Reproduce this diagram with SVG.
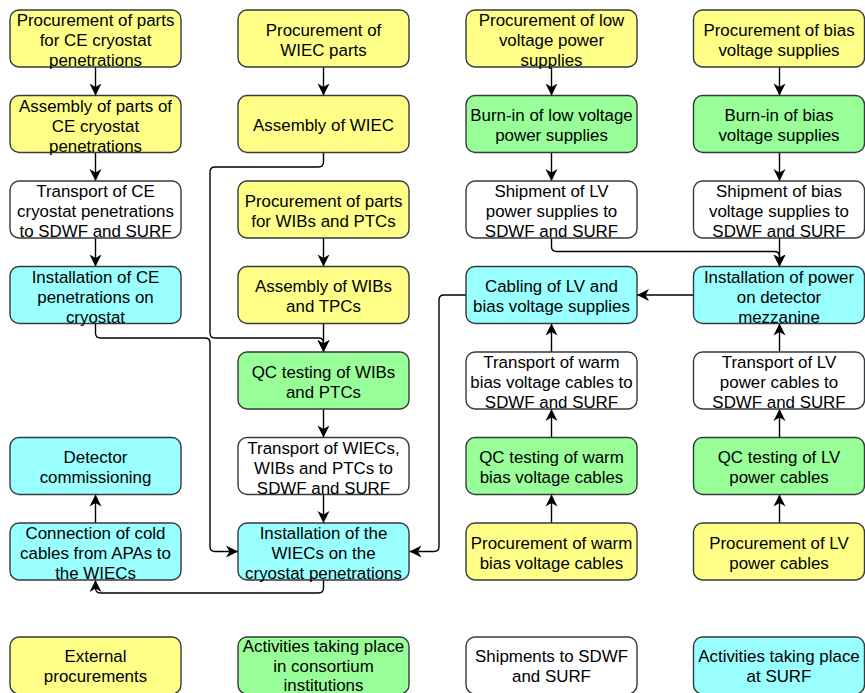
<svg xmlns="http://www.w3.org/2000/svg" width="865" height="693" viewBox="0 0 865 693">
<style>
.b{stroke:#36393d;stroke-width:1.4}
.y{fill:#ffff88}.g{fill:#99ff99}.c{fill:#99ffff}.w{fill:#ffffff}
text{font-family:"Liberation Sans",Arial,sans-serif;font-size:16.9px;fill:#000;text-anchor:middle}
.e{fill:none;stroke:#000;stroke-width:1.4;marker-end:url(#a)}
</style>
<defs>
<marker id="a" markerUnits="userSpaceOnUse" markerWidth="13" markerHeight="13" viewBox="0 0 13 13" refX="12" refY="6.5" orient="auto">
<path d="M0,0.5 L12,6.5 L0,12.5 L3.5,6.5 Z" fill="#000"/>
</marker>
</defs>
<rect width="865" height="693" fill="#fff"/>
<g id="connectors">
<path class="e" d="M95.5,67 V95.5"/>
<path class="e" d="M95.5,152.5 V181"/>
<path class="e" d="M95.5,238 V266.5"/>
<path class="e" d="M95.5,323.5 V333 Q95.5,338 100.5,338 H205 Q210,338 210,343 V546.5 Q210,551.5 215,551.5 H238"/>
<path class="e" d="M95.5,523 V494.5"/>
<path class="e" d="M323.5,580 V588 Q323.5,593 318.5,593 H100.5 Q95.5,593 95.5,588 V580"/>
<path class="e" d="M323.5,67 V95.5"/>
<path class="e" d="M323.5,152.5 V162 Q323.5,167 318.5,167 H215 Q210,167 210,172 V333 Q210,338 215,338 H318.5 Q323.5,338 323.5,343 V352"/>
<path class="e" d="M323.5,238 V266.5"/>
<path class="e" d="M323.5,323.5 V352"/>
<path class="e" d="M323.5,409 V437.5"/>
<path class="e" d="M323.5,494.5 V523"/>
<path class="e" d="M551.5,67 V95.5"/>
<path class="e" d="M551.5,152.5 V181"/>
<path class="e" d="M551.5,238 V246.5 Q551.5,251.5 556.5,251.5 H774.5 Q779.5,251.5 779.5,256.5 V266.5"/>
<path class="e" d="M779.5,67 V95.5"/>
<path class="e" d="M779.5,152.5 V181"/>
<path class="e" d="M779.5,238 V266.5"/>
<path class="e" d="M694,295 H637"/>
<path class="e" d="M466,295 H444 Q439,295 439,300 V546.5 Q439,551.5 434,551.5 H409.5"/>
<path class="e" d="M551.5,352 V323.5"/>
<path class="e" d="M551.5,437.5 V409"/>
<path class="e" d="M551.5,523 V494.5"/>
<path class="e" d="M779.5,352 V323.5"/>
<path class="e" d="M779.5,437.5 V409"/>
<path class="e" d="M779.5,523 V494.5"/>
</g>
<g id="n1"><rect class="b y" x="10" y="10" width="171" height="57" rx="9"/><text x="95.5" y="26">Procurement of parts</text><text x="95.5" y="46">for CE cryostat</text><text x="95.5" y="66">penetrations</text></g>
<g id="n2"><rect class="b y" x="10" y="95.5" width="171" height="57" rx="9"/><text x="95.5" y="111.5">Assembly of parts of</text><text x="95.5" y="131.5">CE cryostat</text><text x="95.5" y="151.5">penetrations</text></g>
<g id="n3"><rect class="b w" x="10" y="181" width="171" height="57" rx="9"/><text x="95.5" y="197">Transport of CE</text><text x="95.5" y="217">cryostat penetrations</text><text x="95.5" y="237">to SDWF and SURF</text></g>
<g id="n4"><rect class="b c" x="10" y="266.5" width="171" height="57" rx="9"/><text x="95.5" y="282.5">Installation of CE</text><text x="95.5" y="302.5">penetrations on</text><text x="95.5" y="322.5">cryostat</text></g>
<g id="n5"><rect class="b c" x="10" y="437.5" width="171" height="57" rx="9"/><text x="95.5" y="463">Detector</text><text x="95.5" y="483">commissioning</text></g>
<g id="n6"><rect class="b c" x="10" y="523" width="171" height="57" rx="9"/><text x="95.5" y="539">Connection of cold</text><text x="95.5" y="559">cables from APAs to</text><text x="95.5" y="579">the WIECs</text></g>
<g id="n7"><rect class="b y" x="238" y="10" width="171" height="57" rx="9"/><text x="323.5" y="35.5">Procurement of</text><text x="323.5" y="55.5">WIEC parts</text></g>
<g id="n8"><rect class="b y" x="238" y="95.5" width="171" height="57" rx="9"/><text x="323.5" y="131">Assembly of WIEC</text></g>
<g id="n9"><rect class="b y" x="238" y="181" width="171" height="57" rx="9"/><text x="323.5" y="206.5">Procurement of parts</text><text x="323.5" y="226.5">for WIBs and PTCs</text></g>
<g id="n10"><rect class="b y" x="238" y="266.5" width="171" height="57" rx="9"/><text x="323.5" y="292">Assembly of WIBs</text><text x="323.5" y="312">and TPCs</text></g>
<g id="n11"><rect class="b g" x="238" y="352" width="171" height="57" rx="9"/><text x="323.5" y="377.5">QC testing of WIBs</text><text x="323.5" y="397.5">and PTCs</text></g>
<g id="n12"><rect class="b w" x="238" y="437.5" width="171" height="57" rx="9"/><text x="323.5" y="453.5">Transport of WIECs,</text><text x="323.5" y="473.5">WIBs and PTCs to</text><text x="323.5" y="493.5">SDWF and SURF</text></g>
<g id="n13"><rect class="b c" x="238" y="523" width="171" height="57" rx="9"/><text x="323.5" y="539">Installation of the</text><text x="323.5" y="559">WIECs on the</text><text x="323.5" y="579">cryostat penetrations</text></g>
<g id="n14"><rect class="b y" x="466" y="10" width="171" height="57" rx="9"/><text x="551.5" y="26">Procurement of low</text><text x="551.5" y="46">voltage power</text><text x="551.5" y="66">supplies</text></g>
<g id="n15"><rect class="b g" x="466" y="95.5" width="171" height="57" rx="9"/><text x="551.5" y="121">Burn-in of low voltage</text><text x="551.5" y="141">power supplies</text></g>
<g id="n16"><rect class="b w" x="466" y="181" width="171" height="57" rx="9"/><text x="551.5" y="197">Shipment of LV</text><text x="551.5" y="217">power supplies to</text><text x="551.5" y="237">SDWF and SURF</text></g>
<g id="n17"><rect class="b c" x="466" y="266.5" width="171" height="57" rx="9"/><text x="551.5" y="292">Cabling of LV and</text><text x="551.5" y="312">bias voltage supplies</text></g>
<g id="n18"><rect class="b w" x="466" y="352" width="171" height="57" rx="9"/><text x="551.5" y="368">Transport of warm</text><text x="551.5" y="388">bias voltage cables to</text><text x="551.5" y="408">SDWF and SURF</text></g>
<g id="n19"><rect class="b g" x="466" y="437.5" width="171" height="57" rx="9"/><text x="551.5" y="463">QC testing of warm</text><text x="551.5" y="483">bias voltage cables</text></g>
<g id="n20"><rect class="b y" x="466" y="523" width="171" height="57" rx="9"/><text x="551.5" y="548.5">Procurement of warm</text><text x="551.5" y="568.5">bias voltage cables</text></g>
<g id="n21"><rect class="b y" x="693.5" y="10" width="171" height="57" rx="9"/><text x="779" y="35.5">Procurement of bias</text><text x="779" y="55.5">voltage supplies</text></g>
<g id="n22"><rect class="b g" x="693.5" y="95.5" width="171" height="57" rx="9"/><text x="779" y="121">Burn-in of bias</text><text x="779" y="141">voltage supplies</text></g>
<g id="n23"><rect class="b w" x="693.5" y="181" width="171" height="57" rx="9"/><text x="779" y="197">Shipment of bias</text><text x="779" y="217">voltage supplies to</text><text x="779" y="237">SDWF and SURF</text></g>
<g id="n24"><rect class="b c" x="693.5" y="266.5" width="171" height="57" rx="9"/><text x="779" y="282.5">Installation of power</text><text x="779" y="302.5">on detector</text><text x="779" y="322.5">mezzanine</text></g>
<g id="n25"><rect class="b w" x="693.5" y="352" width="171" height="57" rx="9"/><text x="779" y="368">Transport of LV</text><text x="779" y="388">power cables to</text><text x="779" y="408">SDWF and SURF</text></g>
<g id="n26"><rect class="b g" x="693.5" y="437.5" width="171" height="57" rx="9"/><text x="779" y="463">QC testing of LV</text><text x="779" y="483">power cables</text></g>
<g id="n27"><rect class="b y" x="693.5" y="523" width="171" height="57" rx="9"/><text x="779" y="548.5">Procurement of LV</text><text x="779" y="568.5">power cables</text></g>
<g id="legend1"><rect class="b y" x="10" y="637" width="171" height="57" rx="9"/><text x="95.5" y="662">External</text><text x="95.5" y="682">procurements</text></g>
<g id="legend2"><rect class="b g" x="238" y="637" width="171" height="57" rx="9"/><text x="323.5" y="652">Activities taking place</text><text x="323.5" y="672">in consortium</text><text x="323.5" y="691">institutions</text></g>
<g id="legend3"><rect class="b w" x="466" y="637" width="171" height="57" rx="9"/><text x="551.5" y="662">Shipments to SDWF</text><text x="551.5" y="682">and SURF</text></g>
<g id="legend4"><rect class="b c" x="693.5" y="637" width="171" height="57" rx="9"/><text x="779" y="662">Activities taking place</text><text x="779" y="682">at SURF</text></g>
</svg>
